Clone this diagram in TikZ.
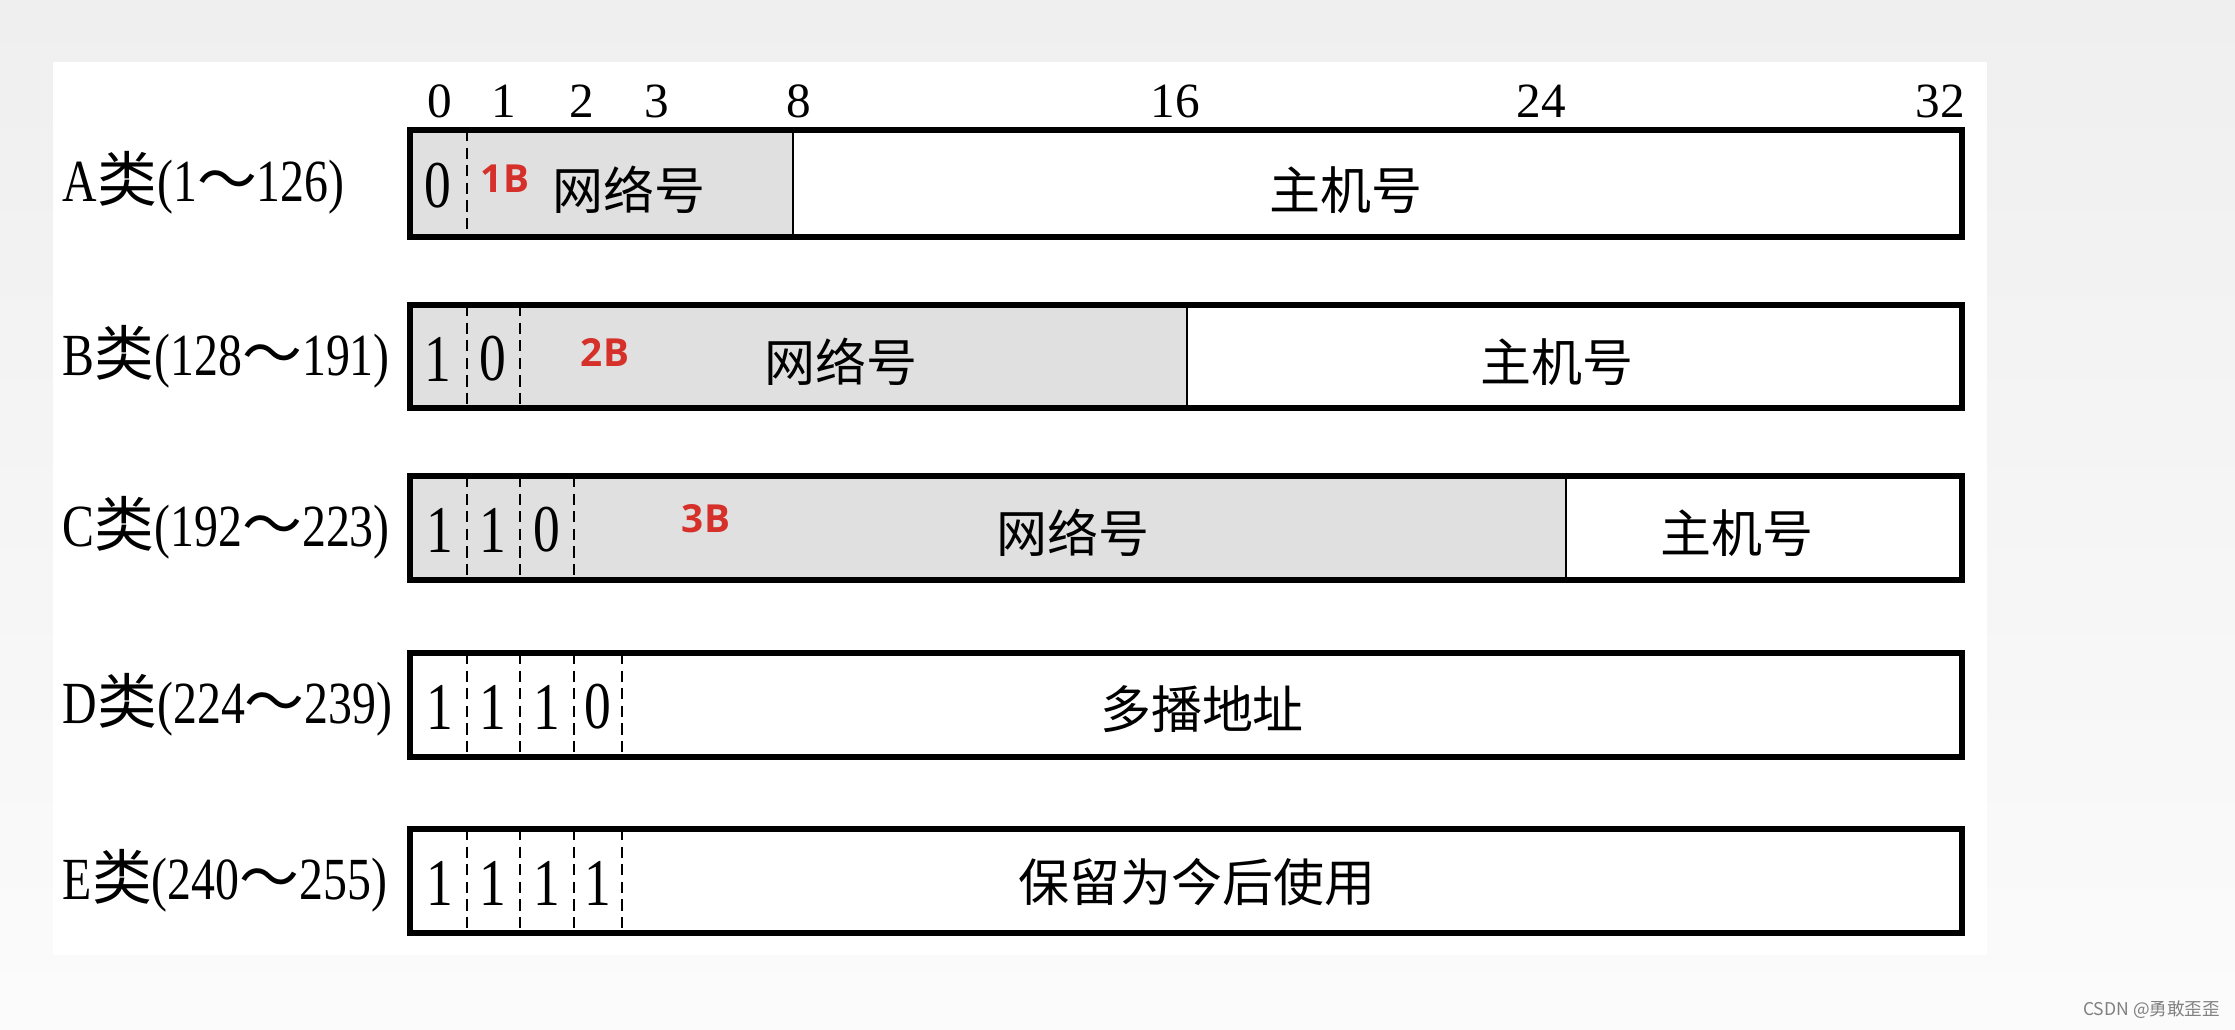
\documentclass[tikz,border=0pt]{standalone}
\usepackage{fontspec}
\setmainfont{Liberation Serif}
\newfontfamily\cjk{Noto Sans CJK SC}
\newfontfamily\narrowserif[FakeStretch=0.8]{Liberation Serif}
\newfontfamily\tagfont{Open Sans}
\definecolor{netgray}{RGB}{224,224,224}
\definecolor{tagred}{RGB}{214,48,42}
\definecolor{pagegray}{RGB}{239,239,239}

\begin{document}
\begin{tikzpicture}[x=0.01cm, y=-0.01cm,
  every node/.style = {inner sep=0pt, outer sep=0pt},
  rowbox/.style = {line width=1.45pt},
  cut/.style = {line width=0.6pt, dash pattern=on 3.2pt off 1.8pt},
  divider/.style = {line width=0.6pt},
  toplab/.style = {anchor=base, font=\fontsize{14}{14}\selectfont},
  bit/.style = {font=\narrowserif\fontsize{19}{19}\selectfont},
  field/.style = {font=\cjk\fontsize{14.5}{14.5}\selectfont},
  cls/.style = {anchor=west, font=\narrowserif\fontsize{17}{17}\selectfont},
  tag/.style = {text=tagred, font=\tagfont\bfseries\fontsize{11}{11}\selectfont}]
  \useasboundingbox (0,0) rectangle (2235,1029);
  \shade[top color=pagegray, bottom color=gray!3] (0,0) rectangle (2235,1029);
  \fill[white] (53,62) rectangle (1987,955);

  % bit positions
  \foreach \n/\x in {0/440,1/504,2/582,3/657,8/799,16/1175,24/1541,32/1940}
    \node[toplab] (pos\n) at (\x,117) {\n};

  % A
  \fill[netgray] (410,130) rectangle (793,237);
  \draw[cut] (467,130) -- (467,237);
  \draw[divider] (793,130) -- (793,237);
  \draw[rowbox] (410,130) rectangle (1962,237);
  \node[cls] (labA) at (63,183) {A{\cjk 类}(1{\cjk ～}126)};
  \node[bit] (bitA1) at (438,186) {0};
  \node[tag] (tagA) at (505,179) {1B};
  \node[field] (netA) at (629,190) {网络号};
  \node[field] (hostA) at (1346,190) {主机号};

  % B
  \fill[netgray] (410,305) rectangle (1187,408);
  \foreach \x in {467,520} \draw[cut] (\x,305) -- (\x,408);
  \draw[divider] (1187,305) -- (1187,408);
  \draw[rowbox] (410,305) rectangle (1962,408);
  \node[cls] (labB) at (63,357) {B{\cjk 类}(128{\cjk ～}191)};
  \foreach \b/\x [count=\i] in {1/438,0/493}
    \node[bit] (bitB\i) at (\x,359) {\b};
  \node[tag] (tagB) at (605,352) {2B};
  \node[field] (netB) at (841,362) {网络号};
  \node[field] (hostB) at (1557,362) {主机号};

  % C
  \fill[netgray] (410,476) rectangle (1566,580);
  \foreach \x in {467,520,574} \draw[cut] (\x,476) -- (\x,580);
  \draw[divider] (1566,476) -- (1566,580);
  \draw[rowbox] (410,476) rectangle (1962,580);
  \node[cls] (labC) at (63,528) {C{\cjk 类}(192{\cjk ～}223)};
  \foreach \b/\x [count=\i] in {1/440,1/493,0/547}
    \node[bit] (bitC\i) at (\x,530) {\b};
  \node[tag] (tagC) at (706,519) {3B};
  \node[field] (netC) at (1073,533) {网络号};
  \node[field] (hostC) at (1737,533) {主机号};

  % D
  \foreach \x in {467,520,574,622} \draw[cut] (\x,653) -- (\x,757);
  \draw[rowbox] (410,653) rectangle (1962,757);
  \node[cls] (labD) at (63,705) {D{\cjk 类}(224{\cjk ～}239)};
  \foreach \b/\x [count=\i] in {1/440,1/493,1/547,0/598}
    \node[bit] (bitD\i) at (\x,707) {\b};
  \node[field] (multi) at (1202,709) {多播地址};

  % E
  \foreach \x in {467,520,574,622} \draw[cut] (\x,829) -- (\x,933);
  \draw[rowbox] (410,829) rectangle (1962,933);
  \node[cls] (labE) at (63,881) {E{\cjk 类}(240{\cjk ～}255)};
  \foreach \b/\x [count=\i] in {1/440,1/493,1/547,1/598}
    \node[bit] (bitE\i) at (\x,883) {\b};
  \node[field] (resv) at (1197,882) {保留为今后使用};

  \node[anchor=east, text=gray, font=\cjk\fontsize{5}{5}\selectfont] (mark) at (2220,1010) {CSDN @勇敢歪歪};
\end{tikzpicture}
\end{document}
